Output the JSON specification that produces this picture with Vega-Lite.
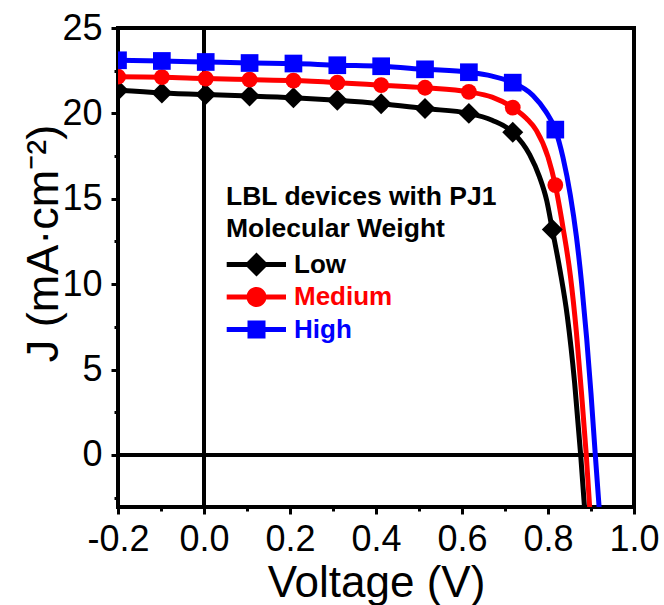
{
  "$schema": "https://vega.github.io/schema/vega-lite/v6.json",
  "width": 516,
  "height": 479,
  "autosize": "none",
  "padding": {"left": 118, "top": 28, "right": 30, "bottom": 98},
  "background": "white",
  "config": {
    "font": "Liberation Sans",
    "view": {"stroke": "black", "strokeWidth": 4},
    "axis": {
      "grid": false,
      "domain": false,
      "tickColor": "black",
      "labelColor": "black",
      "titleColor": "black",
      "labelFont": "Liberation Sans",
      "titleFont": "Liberation Sans"
    }
  },
  "datasets": {
    "curves": [
      {"series": "Low", "V": -0.2, "J": 21.35},
      {"series": "Low", "V": -0.098, "J": 21.2},
      {"series": "Low", "V": 0.004, "J": 21.1},
      {"series": "Low", "V": 0.106, "J": 21.02},
      {"series": "Low", "V": 0.208, "J": 20.92},
      {"series": "Low", "V": 0.31, "J": 20.77},
      {"series": "Low", "V": 0.412, "J": 20.57},
      {"series": "Low", "V": 0.514, "J": 20.28},
      {"series": "Low", "V": 0.616, "J": 20.0},
      {"series": "Low", "V": 0.67, "J": 19.6},
      {"series": "Low", "V": 0.718, "J": 18.9},
      {"series": "Low", "V": 0.757, "J": 17.6},
      {"series": "Low", "V": 0.78, "J": 16.3},
      {"series": "Low", "V": 0.797, "J": 14.9},
      {"series": "Low", "V": 0.81, "J": 13.2},
      {"series": "Low", "V": 0.828, "J": 10.8},
      {"series": "Low", "V": 0.845, "J": 8.1},
      {"series": "Low", "V": 0.862, "J": 4.2},
      {"series": "Low", "V": 0.876, "J": 0},
      {"series": "Low", "V": 0.885, "J": -3.1},
      {"series": "Medium", "V": -0.2, "J": 22.15},
      {"series": "Medium", "V": -0.098, "J": 22.12},
      {"series": "Medium", "V": 0.004, "J": 22.04},
      {"series": "Medium", "V": 0.106, "J": 21.98},
      {"series": "Medium", "V": 0.208, "J": 21.92},
      {"series": "Medium", "V": 0.31, "J": 21.8},
      {"series": "Medium", "V": 0.412, "J": 21.65},
      {"series": "Medium", "V": 0.514, "J": 21.5},
      {"series": "Medium", "V": 0.616, "J": 21.26},
      {"series": "Medium", "V": 0.67, "J": 20.95},
      {"series": "Medium", "V": 0.718, "J": 20.34},
      {"series": "Medium", "V": 0.75, "J": 19.7},
      {"series": "Medium", "V": 0.773, "J": 19.0},
      {"series": "Medium", "V": 0.8, "J": 17.45},
      {"series": "Medium", "V": 0.817, "J": 15.8},
      {"series": "Medium", "V": 0.835, "J": 13.3},
      {"series": "Medium", "V": 0.852, "J": 10.5},
      {"series": "Medium", "V": 0.866, "J": 7.2},
      {"series": "Medium", "V": 0.878, "J": 3.6},
      {"series": "Medium", "V": 0.889, "J": 0},
      {"series": "Medium", "V": 0.897, "J": -3.1},
      {"series": "High", "V": -0.2, "J": 23.11},
      {"series": "High", "V": -0.098, "J": 23.07},
      {"series": "High", "V": 0.004, "J": 23.01},
      {"series": "High", "V": 0.106, "J": 22.95},
      {"series": "High", "V": 0.208, "J": 22.92},
      {"series": "High", "V": 0.31, "J": 22.82},
      {"series": "High", "V": 0.412, "J": 22.76},
      {"series": "High", "V": 0.514, "J": 22.58},
      {"series": "High", "V": 0.616, "J": 22.41},
      {"series": "High", "V": 0.67, "J": 22.18},
      {"series": "High", "V": 0.718, "J": 21.8},
      {"series": "High", "V": 0.765, "J": 21.05},
      {"series": "High", "V": 0.795, "J": 20.1},
      {"series": "High", "V": 0.817, "J": 19.05},
      {"series": "High", "V": 0.835, "J": 17.4},
      {"series": "High", "V": 0.852, "J": 15.2},
      {"series": "High", "V": 0.866, "J": 12.8},
      {"series": "High", "V": 0.878, "J": 10.1},
      {"series": "High", "V": 0.89, "J": 6.8},
      {"series": "High", "V": 0.9, "J": 3.6},
      {"series": "High", "V": 0.91, "J": 0},
      {"series": "High", "V": 0.919, "J": -3.1}
    ],
    "markers": [
      {"series": "Low", "V": -0.2, "J": 21.35},
      {"series": "Low", "V": -0.098, "J": 21.2},
      {"series": "Low", "V": 0.004, "J": 21.1},
      {"series": "Low", "V": 0.106, "J": 21.02},
      {"series": "Low", "V": 0.208, "J": 20.92},
      {"series": "Low", "V": 0.31, "J": 20.77},
      {"series": "Low", "V": 0.412, "J": 20.57},
      {"series": "Low", "V": 0.514, "J": 20.28},
      {"series": "Low", "V": 0.616, "J": 20.0},
      {"series": "Low", "V": 0.718, "J": 18.9},
      {"series": "Low", "V": 0.81, "J": 13.2},
      {"series": "Medium", "V": -0.2, "J": 22.15},
      {"series": "Medium", "V": -0.098, "J": 22.12},
      {"series": "Medium", "V": 0.004, "J": 22.04},
      {"series": "Medium", "V": 0.106, "J": 21.98},
      {"series": "Medium", "V": 0.208, "J": 21.92},
      {"series": "Medium", "V": 0.31, "J": 21.8},
      {"series": "Medium", "V": 0.412, "J": 21.65},
      {"series": "Medium", "V": 0.514, "J": 21.5},
      {"series": "Medium", "V": 0.616, "J": 21.26},
      {"series": "Medium", "V": 0.718, "J": 20.34},
      {"series": "Medium", "V": 0.817, "J": 15.8},
      {"series": "High", "V": -0.2, "J": 23.11},
      {"series": "High", "V": -0.098, "J": 23.07},
      {"series": "High", "V": 0.004, "J": 23.01},
      {"series": "High", "V": 0.106, "J": 22.95},
      {"series": "High", "V": 0.208, "J": 22.92},
      {"series": "High", "V": 0.31, "J": 22.82},
      {"series": "High", "V": 0.412, "J": 22.76},
      {"series": "High", "V": 0.514, "J": 22.58},
      {"series": "High", "V": 0.616, "J": 22.41},
      {"series": "High", "V": 0.718, "J": 21.8},
      {"series": "High", "V": 0.817, "J": 19.05}
    ]
  },
  "layer": [
    {
      "data": {"values": [{"V": 0}]},
      "mark": {"type": "rule", "color": "black", "strokeWidth": 4},
      "encoding": {
        "x": {"field": "V", "type": "quantitative", "scale": {"domain": [-0.2, 1.0], "nice": false, "zero": false}, "axis": null}
      }
    },
    {
      "data": {"values": [{"J": 0}]},
      "mark": {"type": "rule", "color": "black", "strokeWidth": 4},
      "encoding": {
        "y": {"field": "J", "type": "quantitative", "scale": {"domain": [-3.05, 25], "nice": false, "zero": false}, "axis": null}
      }
    },
    {
      "data": {"name": "curves"},
      "mark": {"type": "line", "strokeWidth": 5, "interpolate": "monotone", "clip": true},
      "encoding": {
        "x": {
          "field": "V", "type": "quantitative",
          "scale": {"domain": [-0.2, 1.0], "nice": false, "zero": false},
          "axis": {
            "orient": "bottom",
            "values": [-0.2, 0, 0.2, 0.4, 0.6, 0.8, 1.0],
            "labelExpr": "(datum.value < 0 ? '-' : '') + format(abs(datum.value), '.1f')",
            "tickSize": 7,
            "tickWidth": 3,
            "labelFontSize": 36,
            "labelPadding": 8,
            "labelFlush": false,
            "labelOverlap": false,
            "title": "Voltage (V)",
            "titleFontSize": 44,
            "titleFontWeight": "normal",
            "titleBaseline": "alphabetic",
            "titleY": 89
          }
        },
        "y": {
          "field": "J", "type": "quantitative",
          "scale": {"domain": [-3.05, 25], "nice": false, "zero": false},
          "axis": {
            "orient": "left",
            "values": [0, 5, 10, 15, 20, 25],
            "format": "d",
            "tickSize": 7,
            "tickWidth": 3,
            "labelFontSize": 36,
            "labelPadding": 9,
            "labelOverlap": false,
            "title": "J (mA·cm⁻²)",
            "titleFontSize": 45,
            "titleFontWeight": "normal",
            "titleAngle": -90,
            "titleAlign": "center",
            "titleBaseline": "alphabetic",
            "titleX": -61,
            "titleY": 215
          }
        },
        "color": {
          "field": "series", "type": "nominal",
          "scale": {"domain": ["Low", "Medium", "High"], "range": ["#000000", "#ff0000", "#0000ff"]},
          "legend": {
            "orient": "none",
            "legendX": 108,
            "legendY": 156,
            "padding": 0,
            "title": ["LBL devices with PJ1", "Molecular Weight"],
            "titleFontSize": 26.5,
            "titleFontWeight": "bold",
            "titleColor": "black",
            "titleLineHeight": 32,
            "titleLimit": 500,
            "titlePadding": 9,
            "labelFontSize": 26,
            "labelFontWeight": "bold",
            "labelOffset": 42,
            "labelLimit": 300,
            "symbolSize": 400,
            "symbolStrokeWidth": 0,
            "rowPadding": 6.5,
            "encode": {
              "symbols": {
                "update": {
                  "shape": {"signal": "datum.value === 'Low' ? 'M-1.23,-0.25H4.7V0.25H-1.23Z M1.75,-1.2L2.95,0L1.75,1.2L0.55,0Z' : datum.value === 'Medium' ? 'M-1.23,-0.25H4.7V0.25H-1.23Z M0.75,0A1,1 0 1,1 2.75,0A1,1 0 1,1 0.75,0Z' : 'M-1.23,-0.25H4.7V0.25H-1.23Z M0.85,-0.9H2.65V0.9H0.85Z'"},
                  "fill": {"signal": "datum.value === 'Low' ? '#000000' : datum.value === 'Medium' ? '#ff0000' : '#0000ff'"},
                  "stroke": {"value": "transparent"},
                  "strokeWidth": {"value": 0},
                  "opacity": {"value": 1}
                }
              },
              "labels": {
                "update": {
                  "fill": {"signal": "datum.value === 'Low' ? '#000000' : datum.value === 'Medium' ? '#ff0000' : '#0000ff'"}
                }
              }
            }
          }
        }
      }
    },
    {
      "data": {"name": "markers"},
      "transform": [{"filter": "datum.series === 'Low'"}],
      "mark": {"type": "point", "shape": "diamond", "size": 440, "filled": true, "opacity": 1, "clip": true},
      "encoding": {
        "x": {
          "field": "V", "type": "quantitative",
          "axis": {"orient": "bottom", "values": [-0.1, 0.1, 0.3, 0.5, 0.7, 0.9], "labels": false, "tickSize": 4, "tickWidth": 3, "title": null}
        },
        "y": {
          "field": "J", "type": "quantitative",
          "axis": {"orient": "left", "values": [-2.5, 2.5, 7.5, 12.5, 17.5, 22.5], "labels": false, "tickSize": 4, "tickWidth": 3, "title": null}
        },
        "color": {"field": "series", "type": "nominal"}
      }
    },
    {
      "data": {"name": "markers"},
      "transform": [{"filter": "datum.series === 'Medium'"}],
      "mark": {"type": "point", "shape": "circle", "size": 250, "filled": true, "opacity": 1, "clip": true},
      "encoding": {
        "x": {"field": "V", "type": "quantitative", "axis": null},
        "y": {"field": "J", "type": "quantitative", "axis": null},
        "color": {"field": "series", "type": "nominal"}
      }
    },
    {
      "data": {"name": "markers"},
      "transform": [{"filter": "datum.series === 'High'"}],
      "mark": {"type": "point", "shape": "square", "size": 313, "filled": true, "opacity": 1, "clip": true},
      "encoding": {
        "x": {"field": "V", "type": "quantitative", "axis": null},
        "y": {"field": "J", "type": "quantitative", "axis": null},
        "color": {"field": "series", "type": "nominal"}
      }
    }
  ],
  "resolve": {"axis": {"x": "independent", "y": "independent"}}
}
